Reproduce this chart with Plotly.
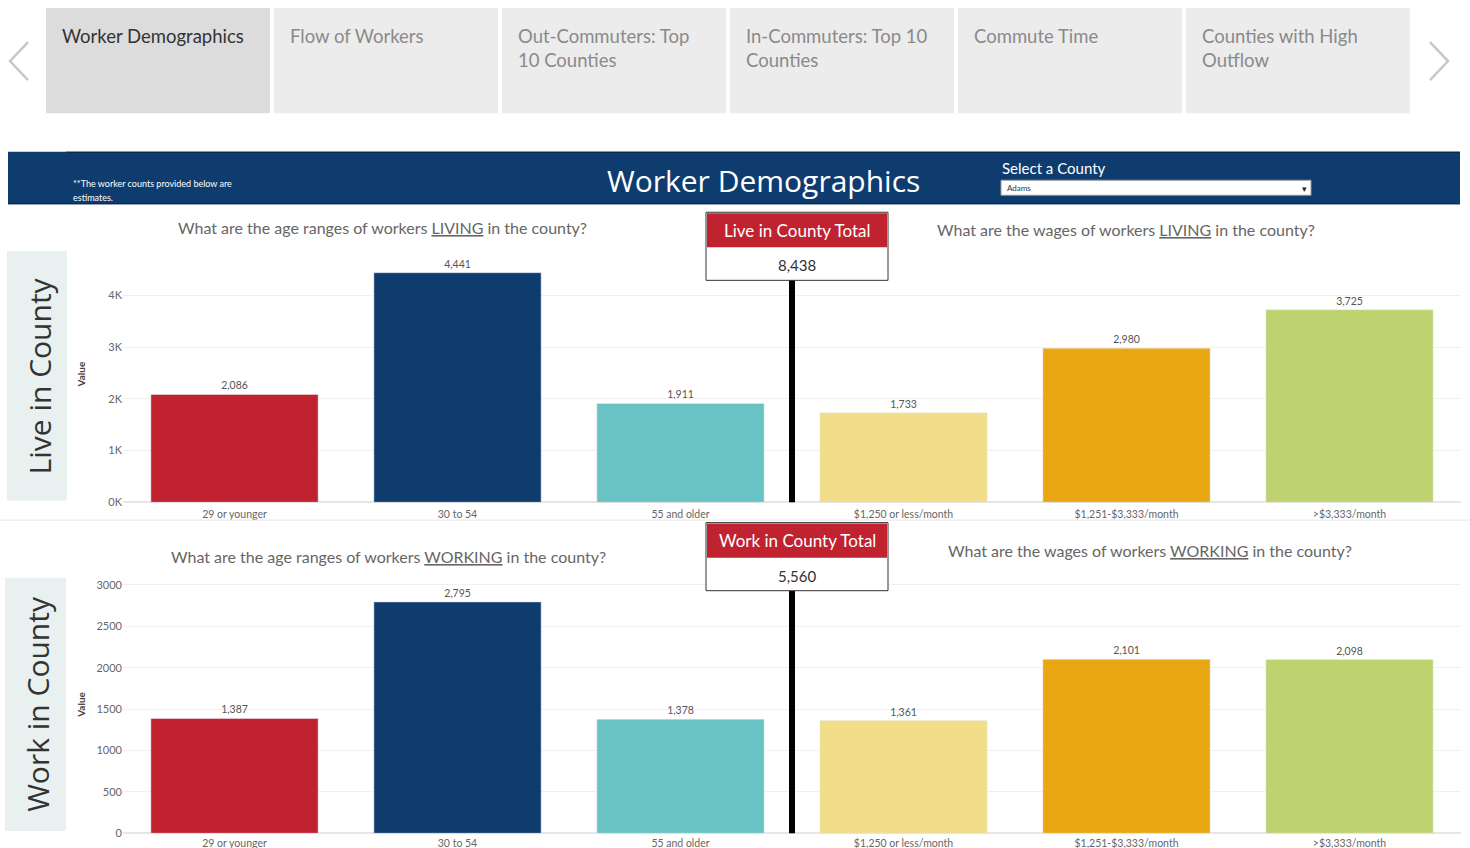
import plotly.graph_objects as go

# ---------------- data ----------------
categories = ["29 or younger", "30 to 54", "55 and older",
              "$1,250 or less/month", "$1,251-$3,333/month", ">$3,333/month"]
live_values = [2086, 4441, 1911, 1733, 2980, 3725]
work_values = [1387, 2795, 1378, 1361, 2101, 2098]
bar_colors = ["#c0222f", "#0f3c6f", "#69c2c3", "#f2dd88", "#e8a713", "#bed36f"]
live_ticks = [0, 1000, 2000, 3000, 4000]
live_ticktext = ["0K", "1K", "2K", "3K", "4K"]
work_ticks = [0, 500, 1000, 1500, 2000, 2500, 3000]
work_ticktext = ["0", "500", "1000", "1500", "2000", "2500", "3000"]
tabs = ["Worker Demographics", "Flow of Workers", "Out-Commuters: Top<br>10 Counties",
        "In-Commuters: Top 10<br>Counties", "Commute Time", "Counties with High<br>Outflow"]
live_total = sum(live_values[:3])
work_total = sum(work_values[:3])

W, H = 1470, 855
REF_H = 848
def px(x): return x / W
def py(y): return 1 - y / REF_H

FONT = "Lato"
fig = go.Figure()

for vals, xa, ya in [(live_values, "x", "y"), (work_values, "x2", "y2")]:
    fig.add_trace(go.Bar(x=categories, y=vals, marker_color=bar_colors, width=0.75,
                         text=vals, texttemplate="%{y:,}", textposition="outside",
                         textfont=dict(size=10.5, color="#555", family=FONT),
                         cliponaxis=False, xaxis=xa, yaxis=ya, showlegend=False,
                         hovertemplate="%{x}: %{y:,}<extra></extra>"))

ytick_common = dict(showline=False, ticks="", tickfont=dict(size=11, color="#666", family=FONT))
xtick_common = dict(range=[-0.5, 5.5], showgrid=False, showline=False,
                    tickfont=dict(size=10.5, color="#666", family=FONT),
                    ticks="outside", tickcolor="rgba(0,0,0,0)")
fig.update_layout(
    width=W, height=H, margin=dict(l=0, r=0, t=0, b=0),
    paper_bgcolor="white", plot_bgcolor="white",
    font=dict(family=FONT),
    xaxis=dict(domain=[px(123), px(1461)], anchor="y", ticklen=2, **xtick_common),
    yaxis=dict(domain=[py(501.7), py(250)], anchor="x", range=[0, 4874],
               tickvals=live_ticks, ticktext=live_ticktext, showgrid=True, gridcolor="#f0f0f0",
               zeroline=True, zerolinecolor="#e6e6e6", **ytick_common),
    xaxis2=dict(domain=[px(123), px(1461)], anchor="y2", ticklen=0, **xtick_common),
    yaxis2=dict(domain=[py(832.3), py(575)], anchor="x2", range=[0, 3112],
                tickvals=work_ticks, ticktext=work_ticktext, showgrid=True, gridcolor="#f0f0f0",
                zeroline=True, zerolinecolor="#e6e6e6", **ytick_common),
)

shapes = []
anns = []
def rect(x0, y0, x1, y1, fill, line=None, lw=0, layer="below"):
    shapes.append(dict(type="rect", xref="paper", yref="paper", x0=px(x0), x1=px(x1),
                       y0=py(y1), y1=py(y0), fillcolor=fill, layer=layer,
                       line=dict(color=line or fill, width=lw)))
def text(x, y, s, size, color, xanchor="center", yanchor="middle", angle=0, family=FONT):
    anns.append(dict(xref="paper", yref="paper", x=px(x), y=py(y), text=s, showarrow=False,
                     xanchor=xanchor, yanchor=yanchor, textangle=angle, align="left",
                     font=dict(size=size, color=color, family=family)))

# ---- navigation tabs ----
tab_x = [46, 274, 502, 730, 958, 1186]
for i, (tx, label) in enumerate(zip(tab_x, tabs)):
    rect(tx, 8, tx + 224, 113, "#dcdcdc" if i == 0 else "#ececec")
    text(tx + 14, 23, label, 18.5, "#333" if i == 0 else "#8a8a8a", xanchor="left", yanchor="top")
# chevrons
shapes.append(dict(type="path", xref="paper", yref="paper",
                   path=f"M {px(28)} {py(42)} L {px(10)} {py(61)} L {px(28)} {py(80)}",
                   line=dict(color="#c8c8c8", width=2.5)))
shapes.append(dict(type="path", xref="paper", yref="paper",
                   path=f"M {px(1430)} {py(42)} L {px(1448)} {py(61)} L {px(1430)} {py(80)}",
                   line=dict(color="#c8c8c8", width=2.5)))

# ---- header band ----
rect(8, 151.5, 1460, 204, "#0f3c6f")
shapes.append(dict(type="line", xref="paper", yref="paper", x0=px(66), x1=px(1460),
                   y0=py(152), y1=py(152), line=dict(color="#0a2540", width=1)))
shapes.append(dict(type="line", xref="paper", yref="paper", x0=px(8), x1=px(1460),
                   y0=py(203.5), y1=py(203.5), line=dict(color="#0a2540", width=1)))
text(763, 180, "Worker Demographics", 30, "white", family="Open Sans")
text(71, 183, "**The worker counts provided below are", 9, "white", xanchor="left")
text(71, 197, "estimates.", 9, "white", xanchor="left")
text(1000, 168, "Select a County", 15, "white", xanchor="left")
rect(1001, 180, 1311, 195, "white", line="#999", lw=1, layer="above")
text(1005, 187.5, "Adams", 8, "#333", xanchor="left")
text(1304, 188, "▾", 9, "#222")

# ---- side labels ----
rect(7, 251, 67, 500, "#e8f1f0")
text(39, 376, "Live in County", 30, "#333", angle=-90, family="Open Sans")
rect(5, 577, 66, 830, "#e8f1f0")
text(38, 703, "Work in County", 30, "#333", angle=-90, family="Open Sans")

# axis titles
text(81, 374, "<b>Value</b>", 10, "#444", angle=-90)
text(81, 704, "<b>Value</b>", 10, "#444", angle=-90)

# ---- questions ----
text(383, 227, "What are the age ranges of workers <u>LIVING</u> in the county?", 16, "#666")
text(1126, 229, "What are the wages of workers <u>LIVING</u> in the county?", 16, "#666")
text(388, 556, "What are the age ranges of workers <u>WORKING</u> in the county?", 16, "#666")
text(1150, 550, "What are the wages of workers <u>WORKING</u> in the county?", 16, "#666")

# separator
shapes.append(dict(type="line", xref="paper", yref="paper", x0=0, x1=1,
                   y0=py(519.5), y1=py(519.5), line=dict(color="#e6e6e6", width=1)))

# ---- vertical divider lines (between age and wage groups) ----
shapes.append(dict(type="line", xref="x", yref="paper", x0=2.5, x1=2.5,
                   y0=py(501.7), y1=py(280), line=dict(color="black", width=6), layer="above"))
shapes.append(dict(type="line", xref="x2", yref="paper", x0=2.5, x1=2.5,
                   y0=py(832.3), y1=py(590), line=dict(color="black", width=6), layer="above"))

# ---- total boxes ----
for (y0, title, total) in [(212, "Live in County Total", live_total),
                           (522, "Work in County Total", work_total)]:
    rect(706, y0, 888, y0 + 68, "white", line="#333", lw=1, layer="above")
    rect(707, y0 + 1, 887, y0 + 35, "#c0222f", layer="above")
    text(797, y0 + 18, title, 17, "white")
    text(797, y0 + 53, f"{total:,}", 15, "#333")

fig.update_layout(shapes=shapes, annotations=anns)
fig.write_html("out.html", config={"displayModeBar": False},
               post_script="document.body.style.margin='0';document.body.style.overflow='hidden';")
